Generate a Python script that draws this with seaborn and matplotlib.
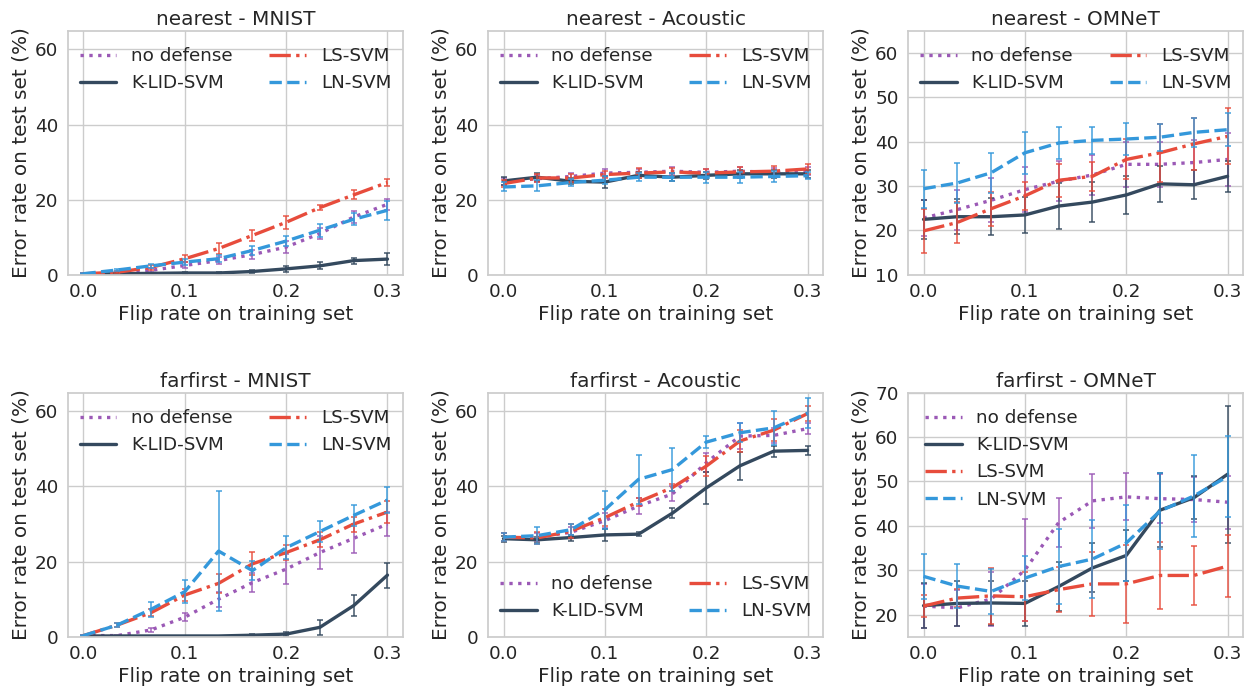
import numpy as np
import matplotlib
matplotlib.use("Agg")
import matplotlib.pyplot as plt
import seaborn as sns

flip = [0.0, 0.0333, 0.0667, 0.1, 0.1333, 0.1667, 0.2, 0.2333, 0.2667, 0.3]
methods = ["no defense", "K-LID-SVM", "LS-SVM", "LN-SVM"]
colors = {"no defense": "#9b59b6", "K-LID-SVM": "#34495e", "LS-SVM": "#e74c3c", "LN-SVM": "#3498db"}
styles = {"no defense": ":", "K-LID-SVM": "-", "LS-SVM": "-.", "LN-SVM": "--"}

titles = ["nearest - MNIST", "nearest - Acoustic", "nearest - OMNeT",
          "farfirst - MNIST", "farfirst - Acoustic", "farfirst - OMNeT"]

# nearest - MNIST
nm_mean = {
    "no defense": [0.3, 0.5, 1.2, 2.5, 3.8, 5.4, 7.4, 11.0, 15.4, 18.8],
    "K-LID-SVM": [0.2, 0.3, 0.4, 0.5, 0.5, 0.9, 1.6, 2.4, 3.8, 4.2],
    "LS-SVM": [0.3, 0.7, 2.0, 4.3, 7.0, 10.5, 14.0, 17.9, 21.3, 24.6],
    "LN-SVM": [0.3, 1.3, 2.4, 3.4, 4.3, 6.5, 9.0, 11.9, 14.8, 17.2],
}
nm_err = {
    "no defense": [0.1, 0.3, 0.5, 0.8, 1.0, 1.3, 1.5, 1.5, 1.5, 1.5],
    "K-LID-SVM": [0.1, 0.1, 0.2, 0.2, 0.3, 0.3, 0.8, 0.9, 0.8, 1.5],
    "LS-SVM": [0.1, 0.3, 0.6, 0.9, 1.4, 1.5, 1.7, 0.6, 1.2, 1.0],
    "LN-SVM": [0.1, 0.3, 0.5, 0.8, 1.0, 1.3, 1.3, 1.7, 1.6, 2.5],
}
# nearest - Acoustic
na_mean = {
    "no defense": [24.9, 25.6, 26.2, 27.1, 27.3, 27.6, 27.3, 27.6, 27.3, 27.6],
    "K-LID-SVM": [25.0, 26.0, 24.9, 24.7, 26.5, 26.0, 26.5, 26.9, 26.9, 26.9],
    "LS-SVM": [24.3, 25.8, 25.8, 26.7, 27.1, 27.4, 27.1, 27.4, 27.6, 28.2],
    "LN-SVM": [23.4, 23.7, 24.6, 25.2, 26.0, 26.0, 26.0, 26.0, 26.2, 26.4],
}
na_err = {
    "no defense": [1.0, 1.0, 1.0, 1.0, 1.0, 1.0, 1.0, 1.2, 1.2, 1.0],
    "K-LID-SVM": [1.0, 1.0, 0.8, 1.5, 0.8, 1.0, 1.0, 1.0, 1.0, 1.0],
    "LS-SVM": [1.0, 1.0, 1.0, 1.0, 1.3, 1.0, 1.0, 1.3, 1.3, 1.3],
    "LN-SVM": [1.2, 1.5, 1.0, 1.0, 1.0, 1.0, 1.5, 1.5, 1.5, 1.0],
}
# nearest - OMNeT
no_mean = {
    "no defense": [22.8, 24.7, 26.8, 29.2, 31.1, 32.5, 34.9, 34.9, 35.3, 36.0],
    "K-LID-SVM": [22.5, 23.1, 23.1, 23.5, 25.5, 26.4, 28.0, 30.5, 30.3, 32.2],
    "LS-SVM": [19.9, 21.8, 24.9, 27.8, 31.3, 32.2, 36.0, 37.5, 39.5, 41.2],
    "LN-SVM": [29.4, 30.7, 33.0, 37.5, 39.7, 40.3, 40.6, 41.0, 42.1, 42.7],
}
no_err = {
    "no defense": [4.0, 4.5, 5.0, 5.0, 4.5, 4.5, 5.0, 5.0, 5.0, 6.0],
    "K-LID-SVM": [4.4, 4.0, 4.2, 4.0, 5.2, 4.5, 4.2, 4.0, 3.3, 3.5],
    "LS-SVM": [4.9, 4.6, 3.8, 3.2, 3.7, 3.2, 4.5, 6.5, 5.8, 6.3],
    "LN-SVM": [4.3, 4.4, 4.5, 4.7, 3.6, 3.0, 3.5, 3.0, 3.3, 3.7],
}
# farfirst - MNIST
fm_mean = {
    "no defense": [0.3, 0.3, 1.8, 5.2, 10.0, 14.4, 18.0, 22.4, 26.2, 30.0],
    "K-LID-SVM": [0.2, 0.2, 0.2, 0.2, 0.2, 0.4, 0.7, 2.5, 8.3, 16.4],
    "LS-SVM": [0.3, 3.1, 6.4, 11.1, 14.2, 19.4, 22.4, 25.8, 30.0, 33.2],
    "LN-SVM": [0.3, 3.1, 7.3, 12.0, 22.8, 17.6, 23.7, 28.0, 32.3, 36.4],
}
fm_err = {
    "no defense": [0.1, 0.2, 0.6, 1.0, 2.0, 2.5, 3.9, 4.4, 3.8, 3.3],
    "K-LID-SVM": [0.1, 0.1, 0.1, 0.1, 0.1, 0.2, 0.6, 2.0, 2.7, 3.3],
    "LS-SVM": [0.1, 0.6, 1.0, 1.5, 2.6, 3.1, 2.0, 2.0, 2.0, 3.0],
    "LN-SVM": [0.1, 0.6, 2.0, 3.0, 16.0, 2.5, 3.0, 2.7, 2.7, 3.5],
}
# farfirst - Acoustic
fa_mean = {
    "no defense": [26.5, 26.5, 27.8, 30.9, 34.8, 38.0, 46.3, 53.4, 53.6, 55.4],
    "K-LID-SVM": [26.1, 25.8, 26.4, 27.1, 27.3, 32.9, 39.6, 45.5, 49.4, 49.6],
    "LS-SVM": [26.5, 26.3, 28.1, 31.7, 35.9, 39.7, 45.4, 52.1, 55.0, 59.4],
    "LN-SVM": [26.5, 26.9, 28.5, 33.8, 41.9, 44.5, 51.8, 54.3, 55.6, 59.5],
}
fa_err = {
    "no defense": [1.0, 1.0, 1.5, 2.0, 2.0, 2.0, 2.5, 3.5, 2.0, 1.5],
    "K-LID-SVM": [0.8, 0.8, 0.8, 1.5, 0.5, 1.3, 4.2, 3.8, 1.5, 1.3],
    "LS-SVM": [1.0, 1.5, 1.8, 2.2, 1.0, 1.0, 2.7, 3.0, 3.0, 1.9],
    "LN-SVM": [1.0, 2.3, 1.5, 5.0, 6.6, 5.8, 1.6, 2.5, 4.5, 4.0],
}
# farfirst - OMNeT
fo_mean = {
    "no defense": [21.9, 21.5, 23.5, 30.0, 40.7, 45.6, 46.5, 46.1, 45.9, 45.3],
    "K-LID-SVM": [22.0, 22.5, 22.6, 22.5, 26.3, 30.5, 33.3, 43.5, 46.3, 51.6],
    "LS-SVM": [21.9, 23.7, 24.2, 24.0, 25.6, 26.9, 26.9, 28.8, 28.8, 30.9],
    "LN-SVM": [28.6, 26.4, 25.2, 28.2, 30.8, 32.5, 36.1, 43.3, 46.7, 51.1],
}
fo_err = {
    "no defense": [5.0, 4.0, 6.0, 11.5, 5.6, 6.0, 5.3, 5.5, 5.0, 6.0],
    "K-LID-SVM": [5.0, 5.0, 5.0, 5.0, 5.5, 5.5, 5.7, 8.3, 4.8, 15.4],
    "LS-SVM": [2.5, 2.0, 6.3, 5.5, 5.0, 7.2, 8.8, 7.6, 6.6, 7.0],
    "LN-SVM": [5.1, 5.0, 5.0, 5.0, 8.4, 8.7, 8.5, 8.5, 9.2, 9.1],
}

means = [nm_mean, na_mean, no_mean, fm_mean, fa_mean, fo_mean]
errs = [nm_err, na_err, no_err, fm_err, fa_err, fo_err]
ylims = [(0, 65), (0, 65), (10, 65), (0, 65), (0, 65), (15, 70)]
yticks = [[0, 20, 40, 60], [0, 20, 40, 60], [10, 20, 30, 40, 50, 60],
          [0, 20, 40, 60], [0, 20, 40, 60], [20, 30, 40, 50, 60, 70]]

sns.set_theme(style="whitegrid", rc={"axes.edgecolor": ".8",
                                     "xtick.major.size": 0, "ytick.major.size": 0,
                                     "xtick.major.pad": 6, "ytick.major.pad": 7})
plt.rcParams["font.family"] = ["DejaVu Sans"]

fig, axes = plt.subplots(2, 3, figsize=(12.48, 6.87), dpi=100)
fig.subplots_adjust(left=0.0547, right=0.9958, top=0.9553, bottom=0.0732,
                    wspace=0.256, hspace=0.482)

for i, ax in enumerate(axes.flat):
    for m in methods:
        y = means[i][m]
        e = errs[i][m]
        ax.errorbar(flip, y, yerr=e, fmt="none", ecolor=colors[m], elinewidth=1.2,
                    capsize=2, capthick=1.2, alpha=0.85)
        sns.lineplot(x=flip, y=y, ax=ax, color=colors[m], linestyle=styles[m],
                     linewidth=2.4, label=m)
    ax.set_ylim(*ylims[i])
    ax.set_yticks(yticks[i])
    ax.set_xticks([0.0, 0.1, 0.2, 0.3])
    ax.set_xticklabels(["0.0", "0.1", "0.2", "0.3"])
    ax.tick_params(labelsize=13.2)
    ax.set_title(titles[i], fontsize=14.4, pad=4)
    ax.set_xlabel("Flip rate on training set", fontsize=14.4, labelpad=3)
    ax.set_ylabel("Error rate on test set (%)", fontsize=14.4, labelpad=3)
    if i == 5:
        ax.legend(loc="upper left", ncol=1, frameon=False, fontsize=13.2)
    elif i == 4:
        ax.legend(loc="lower center", ncol=2, frameon=False, fontsize=13.2)
    else:
        ax.legend(loc="upper center", ncol=2, frameon=False, fontsize=13.2)

fig.savefig("out.png", dpi=100)
